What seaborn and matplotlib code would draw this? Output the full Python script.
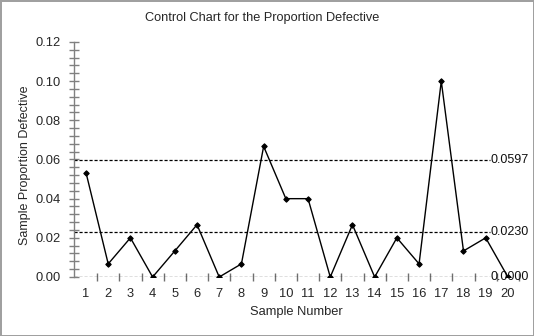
import numpy as np
import pandas as pd
import seaborn as sns
import matplotlib.pyplot as plt
from matplotlib.ticker import MultipleLocator

samples = list(range(1, 21))
proportion = [0.0533, 0.0067, 0.0200, 0.0000, 0.0133, 0.0267, 0.0000, 0.0067,
              0.0667, 0.0400, 0.0400, 0.0000, 0.0267, 0.0000, 0.0200, 0.0067,
              0.1000, 0.0133, 0.0200, 0.0000]
limits = [0.0597, 0.0230, 0.0000]
limit_labels = ["0.0597", "0.0230", "0.0000"]

df = pd.DataFrame({"sample": samples, "p": proportion})

sns.set_theme(style="white")
plt.rcParams["font.family"] = ["Liberation Sans", "DejaVu Sans"]

fig = plt.figure(figsize=(5.34, 3.36), dpi=100)
fig.patch.set_edgecolor("#a0a0a0")
fig.patch.set_linewidth(2)
ax = fig.add_axes([0.1386, 0.1756, 0.8333, 0.6994])

# control limits (dashed) with their values at the right end
line_end = 19.2
for val, lab in zip(limits, limit_labels):
    ax.plot([0.46, line_end], [val, val], color="black", lw=0.9,
            ls=(0, (2.5, 1.5)), zorder=1)
    ax.text(line_end, val, lab, fontsize=9, va="center", ha="left",
            color="#101010", zorder=2)

sns.lineplot(data=df, x="sample", y="p", ax=ax, color="black", lw=1,
             marker="D", markersize=2.8, markeredgecolor="black", zorder=3)

ax.set_xlim(0.46, 20.5)
ax.set_ylim(0, 0.12)
for s in ["top", "right", "bottom"]:
    ax.spines[s].set_visible(False)
ax.spines["left"].set_color("#808080")
ax.spines["left"].set_linewidth(1)

ax.yaxis.set_minor_locator(MultipleLocator(0.004))
ax.set_yticks(np.arange(0, 0.121, 0.02))
ax.set_yticklabels([f"{v:.2f}" for v in np.arange(0, 0.121, 0.02)])
ax.tick_params(axis="y", which="both", direction="inout", length=7, width=1,
               color="#808080", left=True, labelsize=9.3, pad=6)

# x: tick marks between samples, labels under each sample
ax.set_xticks(np.arange(1.5, 20.6, 1))
ax.set_xticklabels([])
ax.set_xticks(samples, minor=True)
ax.set_xticklabels([str(s) for s in samples], minor=True)
ax.tick_params(axis="x", which="major", direction="inout", length=6, width=1,
               color="#707070", bottom=True)
ax.tick_params(axis="x", which="minor", length=0, bottom=True,
               labelsize=9.3, pad=8)

ax.set_xlabel("")
ax.set_ylabel("")
fig.text(262 / 534, 1 - 18 / 336, "Control Chart for the Proportion Defective",
         ha="center", va="center", fontsize=9.2)
fig.text(296 / 534, 1 - 312 / 336, "Sample Number", ha="center",
         va="center", fontsize=9.3)
fig.text(25 / 534, 1 - 165 / 336, "Sample Proportion Defective", ha="center",
         va="center", rotation=90, fontsize=9)

fig.savefig("out.png", dpi=100)
